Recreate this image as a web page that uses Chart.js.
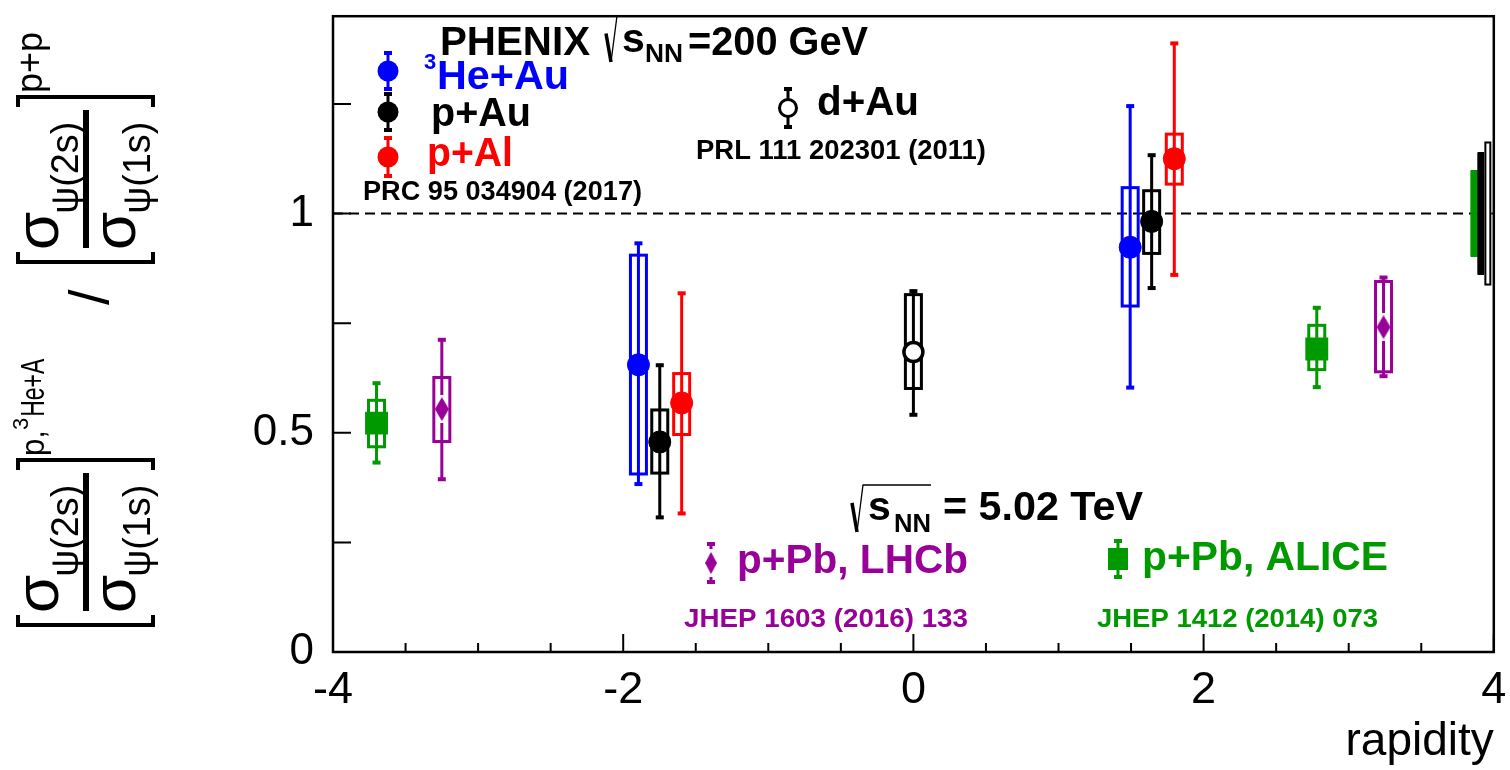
<!DOCTYPE html>
<html>
<head>
<meta charset="utf-8">
<script src="https://cdn.jsdelivr.net/npm/chart.js@4.4.1/dist/chart.umd.min.js"></script>
<style>
  html, body { margin: 0; padding: 0; background: #fff; }
  #c { display: block; }
</style>
</head>
<body>
<canvas id="c" width="1510" height="770"></canvas>
<script>
// ---- psi(2S)/psi(1S) double ratio versus rapidity ----

// PHENIX 3He+Au
const heAuRap    = [-1.895, 1.494];
const heAuVal    = [0.655, 0.923];
const heAuStatLo = [0.383, 0.603];
const heAuStatHi = [0.932, 1.245];
const heAuSysLo  = [0.406, 0.789];
const heAuSysHi  = [0.905, 1.059];

// PHENIX p+Au
const pAuRap    = [-1.748, 1.642];
const pAuVal    = [0.479, 0.982];
const pAuStatLo = [0.307, 0.830];
const pAuStatHi = [0.654, 1.133];
const pAuSysLo  = [0.408, 0.909];
const pAuSysHi  = [0.552, 1.052];

// PHENIX p+Al
const pAlRap    = [-1.597, 1.798];
const pAlVal    = [0.568, 1.125];
const pAlStatLo = [0.316, 0.860];
const pAlStatHi = [0.818, 1.388];
const pAlSysLo  = [0.496, 1.067];
const pAlSysHi  = [0.635, 1.181];

// PHENIX d+Au
const dAuRap    = [0.0];
const dAuVal    = [0.684];
const dAuStatLo = [0.541];
const dAuStatHi = [0.823];
const dAuSysLo  = [0.601];
const dAuSysHi  = [0.815];

// LHCb p+Pb
const lhcbRap    = [-3.25, 3.24];
const lhcbVal    = [0.554, 0.741];
const lhcbStatLo = [0.394, 0.629];
const lhcbStatHi = [0.712, 0.854];
const lhcbSysLo  = [0.480, 0.639];
const lhcbSysHi  = [0.626, 0.845];

// ALICE p+Pb
const aliceRap    = [-3.70, 2.78];
const aliceVal    = [0.522, 0.691];
const aliceStatLo = [0.432, 0.604];
const aliceStatHi = [0.613, 0.785];
const aliceSysLo  = [0.468, 0.644];
const aliceSysHi  = [0.574, 0.745];

// global uncertainties drawn at unity (ALICE, PHENIX p/3He+A, PHENIX d+Au)
const globalRapLo = [3.840, 3.888, 3.935];
const globalRapHi = [3.888, 3.935, 3.983];
const globalLo    = [0.903, 0.862, 0.838];
const globalHi    = [1.097, 1.138, 1.162];

// axis ticks
const xMajorTicks  = [-4, -2, 0, 2, 4];
const xTickLabels  = ['-4', '-2', '0', '2', '4'];
const yMajorTicks  = [0, 0.5, 1];
const yTickLabels  = ['0', '0.5', '1'];

const FAMILY = '"Liberation Sans", Arial, Helvetica, sans-serif';
const BLUE = '#0000ff', RED = '#ff0000', BLACK = '#000000', PURPLE = '#990099', GREEN = '#009900';

// plot frame in canvas pixels
const FRAME = { left: 333, top: 8, right: 1496, bottom: 652 };

function diamondImage(w, h, color) {
  const c = document.createElement('canvas');
  c.width = w; c.height = h;
  const g = c.getContext('2d');
  g.fillStyle = color;
  g.beginPath();
  g.moveTo(w / 2, 0); g.lineTo(w, h / 2); g.lineTo(w / 2, h); g.lineTo(0, h / 2);
  g.closePath(); g.fill();
  return c;
}
const lhcbDiamond = diamondImage(14, 24, PURPLE);

const series = [
  { name: 'ALICE', color: GREEN, kind: 'square', gap: 0,
    rap: aliceRap, val: aliceVal, statLo: aliceStatLo, statHi: aliceStatHi, sysLo: aliceSysLo, sysHi: aliceSysHi },
  { name: 'LHCb', color: PURPLE, kind: 'diamond', gap: 14,
    rap: lhcbRap, val: lhcbVal, statLo: lhcbStatLo, statHi: lhcbStatHi, sysLo: lhcbSysLo, sysHi: lhcbSysHi },
  { name: '3He+Au', color: BLUE, kind: 'dot', gap: 0,
    rap: heAuRap, val: heAuVal, statLo: heAuStatLo, statHi: heAuStatHi, sysLo: heAuSysLo, sysHi: heAuSysHi },
  { name: 'p+Au', color: BLACK, kind: 'dot', gap: 0,
    rap: pAuRap, val: pAuVal, statLo: pAuStatLo, statHi: pAuStatHi, sysLo: pAuSysLo, sysHi: pAuSysHi },
  { name: 'p+Al', color: RED, kind: 'dot', gap: 0,
    rap: pAlRap, val: pAlVal, statLo: pAlStatLo, statHi: pAlStatHi, sysLo: pAlSysLo, sysHi: pAlSysHi },
  { name: 'd+Au', color: BLACK, kind: 'open', gap: 0,
    rap: dAuRap, val: dAuVal, statLo: dAuStatLo, statHi: dAuStatHi, sysLo: dAuSysLo, sysHi: dAuSysHi }
];

function pointOpts(s) {
  switch (s.kind) {
    case 'dot':     return { pointStyle: 'circle', pointRadius: 11, pointBorderWidth: 1, backgroundColor: s.color, borderColor: s.color };
    case 'open':    return { pointStyle: 'circle', pointRadius: 9.5, pointBorderWidth: 3.5, backgroundColor: '#ffffff', borderColor: s.color };
    case 'square':  return { pointStyle: 'rect', pointRadius: 16.2, pointBorderWidth: 0, backgroundColor: s.color, borderColor: s.color };
    case 'diamond': return { pointStyle: lhcbDiamond, pointRadius: 12, pointBorderWidth: 0, backgroundColor: s.color, borderColor: s.color };
  }
}

const datasets = series.map(s => Object.assign({
  label: s.name,
  data: s.rap.map((x, i) => ({ x: x, y: s.val[i] })),
  showLine: false
}, pointOpts(s)));

// ---------- drawing helpers ----------
function text(ctx, s, x, y, size, color, width, weight) {
  ctx.font = `${weight || 'bold'} ${size}px ${FAMILY}`;
  ctx.fillStyle = color;
  ctx.textAlign = 'left';
  ctx.textBaseline = 'alphabetic';
  const m = ctx.measureText(s).width;
  if (width) {
    ctx.save();
    ctx.translate(x, y);
    ctx.scale(width / m, 1);
    ctx.fillText(s, 0, 0);
    ctx.restore();
    return x + width;
  }
  ctx.fillText(s, x, y);
  return x + m;
}

function radical(ctx, x0, yTop, yBot, x1) {
  ctx.save();
  ctx.strokeStyle = '#000';
  ctx.lineWidth = 3.5;
  ctx.beginPath();
  ctx.moveTo(x0, yTop + (yBot - yTop) * 0.38);
  ctx.lineTo(x0 + 5, yBot);
  ctx.stroke();
  ctx.lineWidth = 1.3;
  ctx.beginPath();
  ctx.moveTo(x0 + 5, yBot);
  ctx.lineTo(x0 + 11, yTop);
  ctx.lineTo(x1, yTop);
  ctx.stroke();
  ctx.restore();
}

function marker(ctx, kind, x, y, color) {
  ctx.save();
  ctx.fillStyle = color; ctx.strokeStyle = color;
  if (kind === 'dot') {
    ctx.beginPath(); ctx.arc(x, y, 10.5, 0, Math.PI * 2); ctx.fill();
  } else if (kind === 'open') {
    ctx.beginPath(); ctx.arc(x, y, 8.5, 0, Math.PI * 2);
    ctx.fillStyle = '#fff'; ctx.fill(); ctx.lineWidth = 3; ctx.stroke();
  } else if (kind === 'square') {
    ctx.fillRect(x - 10, y - 11, 20, 22);
  } else if (kind === 'diamond') {
    ctx.drawImage(lhcbDiamond, x - 6, y - 11, 12, 22);
  }
  ctx.restore();
}

function legendMark(ctx, kind, x, y, half, color, gap) {
  ctx.save();
  ctx.strokeStyle = color; ctx.fillStyle = color; ctx.lineWidth = 3;
  ctx.beginPath();
  ctx.moveTo(x, y - half); ctx.lineTo(x, y - (gap || 0));
  ctx.moveTo(x, y + (gap || 0)); ctx.lineTo(x, y + half);
  ctx.stroke();
  ctx.fillRect(x - 4, y - half - 2, 8, 4);
  ctx.fillRect(x - 4, y + half - 2, 8, 4);
  ctx.restore();
  marker(ctx, kind, x, y, color);
}

function drawYTitle(ctx) {
  ctx.save();
  ctx.rotate(-Math.PI / 2);
  ctx.fillStyle = '#000'; ctx.strokeStyle = '#000';
  ctx.textAlign = 'left'; ctx.textBaseline = 'alphabetic';
  // text running upwards: starts at screen y = sy, baseline at screen x = bx
  const put = (s, sy, bx, size, width) => {
    ctx.font = `${size}px ${FAMILY}`;
    const m = ctx.measureText(s).width;
    if (width) {
      ctx.save();
      ctx.translate(-sy, bx);
      ctx.scale(width / m, 1);
      ctx.fillText(s, 0, 0);
      ctx.restore();
      return sy - width;
    }
    ctx.fillText(s, -sy, bx);
    return sy - m;
  };
  const group = (sy0, sup) => {
    const sy1 = sy0 - 165;
    ctx.lineWidth = 4;
    ctx.beginPath();
    ctx.moveTo(-(sy0 - 10), 18); ctx.lineTo(-sy0, 18); ctx.lineTo(-sy0, 153); ctx.lineTo(-(sy0 - 10), 153);
    ctx.moveTo(-(sy1 + 10), 18); ctx.lineTo(-sy1, 18); ctx.lineTo(-sy1, 153); ctx.lineTo(-(sy1 + 10), 153);
    ctx.stroke();
    let e = put('σ', sy0 - 12, 58, 62);
    put('ψ(2s)', e + 2, 78, 38, 92);
    e = put('σ', sy0 - 12, 135, 62);
    put('ψ(1s)', e + 2, 150, 38, 92);
    ctx.fillRect(-(sy0 - 14), 83, 138, 6);
    sup(sy1 - 4);
  };
  group(625, (sy) => {
    let e = put('p,', sy, 44, 34, 26);
    e = put('3', e, 28, 22);
    put('He+A', e - 1, 44, 34, 58);
  });
  put('/', 305, 108, 56);
  group(262, (sy) => { put('p+p', sy, 42, 36); });
  ctx.restore();
}

// ---------- plugin: uncertainty boxes, frame, ticks and annotations ----------
const decor = {
  id: 'decor',
  beforeDatasetsDraw(chart) {
    const ctx = chart.ctx, xs = chart.scales.x, ys = chart.scales.y, ca = chart.chartArea;
    ctx.save();
    // unity reference line
    ctx.strokeStyle = '#000'; ctx.lineWidth = 2; ctx.setLineDash([10, 6]);
    ctx.beginPath();
    ctx.moveTo(ca.left, ys.getPixelForValue(1)); ctx.lineTo(ca.right, ys.getPixelForValue(1));
    ctx.stroke();
    ctx.setLineDash([]);

    // global uncertainty boxes
    const gStyles = [{ fill: GREEN, stroke: GREEN }, { fill: BLACK, stroke: BLACK }, { fill: '#ffffff', stroke: BLACK }];
    globalLo.forEach((lo, i) => {
      const x0 = xs.getPixelForValue(globalRapLo[i]), x1 = xs.getPixelForValue(globalRapHi[i]);
      const y0 = ys.getPixelForValue(globalHi[i]), y1 = ys.getPixelForValue(lo);
      ctx.fillStyle = gStyles[i].fill;
      ctx.fillRect(x0, y0, x1 - x0, y1 - y0);
      ctx.strokeStyle = gStyles[i].stroke; ctx.lineWidth = 2;
      ctx.strokeRect(x0 + 1, y0, x1 - x0 - 2, y1 - y0);
    });

    // systematic boxes and statistical bars
    series.forEach(s => {
      ctx.strokeStyle = s.color; ctx.fillStyle = s.color;
      s.rap.forEach((r, i) => {
        const x = xs.getPixelForValue(r);
        const yc = ys.getPixelForValue(s.val[i]);
        const yb0 = ys.getPixelForValue(s.sysHi[i]), yb1 = ys.getPixelForValue(s.sysLo[i]);
        ctx.lineWidth = 3;
        ctx.strokeRect(x - 8, yb0, 16, yb1 - yb0);
        const ys0 = ys.getPixelForValue(s.statHi[i]), ys1 = ys.getPixelForValue(s.statLo[i]);
        ctx.beginPath();
        ctx.moveTo(x, ys0); ctx.lineTo(x, yc - s.gap);
        ctx.moveTo(x, yc + s.gap); ctx.lineTo(x, ys1);
        ctx.stroke();
        ctx.fillRect(x - 4, ys0 - 2, 8, 4);
        ctx.fillRect(x - 4, ys1 - 2, 8, 4);
      });
    });
    ctx.restore();
  },
  afterDraw(chart) {
    const ctx = chart.ctx, xs = chart.scales.x, ys = chart.scales.y, ca = chart.chartArea;
    ctx.save();
    // frame
    ctx.strokeStyle = '#000'; ctx.lineWidth = 2.5;
    ctx.strokeRect(ca.left, ca.top, ca.right - ca.left, ca.bottom - ca.top);
    // inward ticks
    ctx.lineWidth = 2;
    ctx.beginPath();
    xs.ticks.forEach(t => {
      const px = xs.getPixelForValue(t.value);
      const len = xMajorTicks.includes(t.value) ? 18 : 9;
      ctx.moveTo(px, ca.bottom); ctx.lineTo(px, ca.bottom - len);
    });
    ys.ticks.forEach(t => {
      const py = ys.getPixelForValue(t.value);
      ctx.moveTo(ca.left, py); ctx.lineTo(ca.left + 18, py);
    });
    ctx.stroke();

    // PHENIX header
    text(ctx, 'PHENIX', 440, 55, 41, BLACK, 150);
    radical(ctx, 606, 16, 62, 686);
    text(ctx, 's', 622, 52, 41, BLACK);
    text(ctx, 'NN', 645, 62, 26, BLACK, 38);
    text(ctx, '=200 GeV', 688, 55, 41, BLACK, 180);

    // PHENIX legend
    legendMark(ctx, 'dot', 388, 71, 18, BLUE);
    text(ctx, '3', 424, 69, 22, BLUE);
    text(ctx, 'He+Au', 437, 89, 40, BLUE, 132);
    legendMark(ctx, 'dot', 388, 112, 18, BLACK);
    text(ctx, 'p+Au', 431, 126, 40, BLACK, 100);
    legendMark(ctx, 'dot', 388, 157, 19, RED);
    text(ctx, 'p+Al', 427, 166, 40, RED, 86);
    text(ctx, 'PRC 95 034904 (2017)', 363, 200, 27, BLACK, 279);

    legendMark(ctx, 'open', 788, 108, 19, BLACK);
    text(ctx, 'd+Au', 817, 115, 40, BLACK, 102);
    text(ctx, 'PRL 111 202301 (2011)', 696, 159, 27, BLACK, 290);

    // LHC header and legend
    radical(ctx, 852, 485, 532, 931);
    text(ctx, 's', 868, 520, 41, BLACK);
    text(ctx, 'NN', 894, 532, 26, BLACK, 37);
    text(ctx, '= 5.02 TeV', 943, 520, 41, BLACK, 200);

    legendMark(ctx, 'diamond', 711, 563, 19, PURPLE, 14);
    text(ctx, 'p+Pb, LHCb', 737, 573, 41, PURPLE, 231);
    legendMark(ctx, 'square', 1118, 559, 18, GREEN);
    text(ctx, 'p+Pb, ALICE', 1142, 570, 41, GREEN, 246);
    text(ctx, 'JHEP 1603 (2016) 133', 684, 627, 26, PURPLE, 284);
    text(ctx, 'JHEP 1412 (2014) 073', 1097, 627, 26, GREEN, 281);

    drawYTitle(ctx);
    ctx.restore();
  }
};

const isYMajor = v => yMajorTicks.findIndex(t => Math.abs(t - v) < 1e-9);

const chart = new Chart(document.getElementById('c'), {
  type: 'scatter',
  data: { datasets: datasets },
  options: {
    responsive: false,
    animation: false,
    events: [],
    devicePixelRatio: 1,
    layout: { padding: { top: FRAME.top, right: 1510 - FRAME.right, left: 0, bottom: 0 } },
    plugins: { legend: { display: false }, tooltip: { enabled: false } },
    scales: {
      x: {
        type: 'linear', min: -4, max: 4,
        grid: { display: false }, border: { display: false },
        ticks: {
          stepSize: 0.5, autoSkip: false, maxRotation: 0, includeBounds: false, padding: 4,
          color: '#000', font: { family: FAMILY, size: 45 },
          callback: v => { const k = xMajorTicks.indexOf(v); return k >= 0 ? xTickLabels[k] : ''; }
        },
        title: { display: true, text: 'rapidity', align: 'end', color: '#000',
                 font: { family: FAMILY, size: 46 }, padding: { top: 0, bottom: 0 } },
        afterFit: s => { s.height = 770 - FRAME.bottom; s.paddingLeft = 0; s.paddingRight = 0; }
      },
      y: {
        type: 'linear', min: 0, max: 1.45,
        grid: { display: false }, border: { display: false },
        ticks: {
          stepSize: 0.25, autoSkip: false, includeBounds: false, padding: 11,
          color: '#000',
          font: c => ({ family: FAMILY, size: (c.tick && isYMajor(c.tick.value) >= 0) ? 44 : 2 }),
          callback: v => { const k = isYMajor(v); return k >= 0 ? yTickLabels[k] : ''; }
        },
        afterFit: s => { s.width = FRAME.left; s.paddingTop = 0; s.paddingBottom = 0; }
      }
    }
  },
  plugins: [decor]
});
</script>
</body>
</html>
